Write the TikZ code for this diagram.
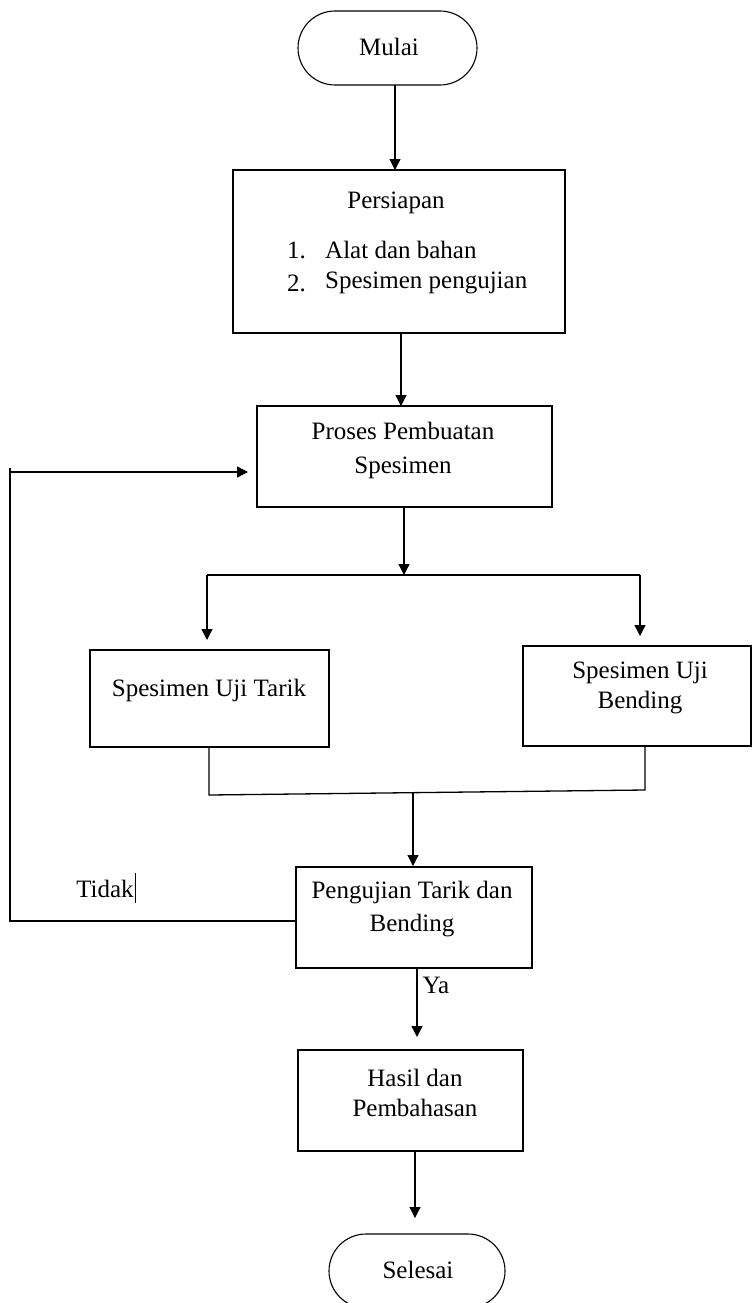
\documentclass[tikz,border=0pt]{standalone}
\usepackage{fontspec}
\setmainfont{Liberation Serif}
\usetikzlibrary{arrows.meta,shapes.misc}
\begin{document}
\begin{tikzpicture}[x=1pt,y=-1pt,
  every node/.style={font=\fontsize{25}{30}\selectfont, inner sep=0pt},
  box/.style={draw, line width=1.3pt, rectangle},
  term/.style={draw, line width=1.1pt, rounded rectangle},
  conn/.style={line width=1.3pt},
  arr/.style={line width=1.3pt, -{Triangle[length=11pt,width=11pt]}},
  txt/.style={align=center}
]
\clip (0,0) rectangle (752,1303);
\useasboundingbox (0,0) rectangle (752,1303);
% nodes
\node[term, minimum width=179pt, minimum height=74pt] (mulai) at (387.5,48) {};
\node (tmulai) at (389,47) {Mulai};
\node[box, minimum width=332pt, minimum height=163pt] (persiapan) at (399,251.5) {};
\node (tpers) at (396,203) {Persiapan};
\node[anchor=west] (n1) at (287,250) {1.};
\node[anchor=west] (l1) at (325,250) {Alat dan bahan};
\node[anchor=west] (n2) at (287,283) {2.};
\node[anchor=west] (l2) at (325,283) {Spesimen pengujian};
\node[box, minimum width=295pt, minimum height=101pt] (proses) at (404.5,456.5) {};
\node[txt] (tproses) at (403,450) {Proses Pembuatan\\[4pt]Spesimen};
\node[box, minimum width=239pt, minimum height=97pt] (tarik) at (209.5,698.5) {};
\node (ttarik) at (209,690) {Spesimen Uji Tarik};
\node[box, minimum width=228pt, minimum height=100pt] (bending) at (637,696) {};
\node[txt] (tbend) at (640,688) {Spesimen Uji\\Bending};
\node[box, minimum width=236pt, minimum height=101pt] (uji) at (414,917.5) {};
\node[txt] (tuji) at (412,909.5) {Pengujian Tarik dan\\[3pt]Bending};
\node[box, minimum width=225pt, minimum height=101pt] (hasil) at (410.5,1100.5) {};
\node[txt] (thasil) at (415,1093) {Hasil dan\\Pembahasan};
\node[term, minimum width=176pt, minimum height=74pt] (selesai) at (417,1271) {};
\node (tsel) at (418,1270) {Selesai};
\node (tidak) at (105,889) {Tidak};
\node (ya) at (436,985) {Ya};
% coordinates
\coordinate (split) at (404,575);
\coordinate (sl) at (207,575);
\coordinate (sr) at (640,575);
\coordinate (ml) at (209,795);
\coordinate (mr) at (645,790);
\coordinate (mc) at (413,793);
\coordinate (fb1) at (10,921);
\coordinate (fb2) at (10,468);
\coordinate (fb3) at (10,472);
\coordinate (fbend) at (248,472);
% connectors
\draw[arr] (395,85) -- (395,170);
\draw[arr] (persiapan.south -| 401,0) -- (401,406);
\draw[arr] (proses.south -| split) -- (split);
\draw[conn] (sl) -- (sr);
\draw[arr] (sl) -- (207,640);
\draw[arr] (sr) -- (640,636);
\draw[conn] (tarik.south -| ml) -- (ml) -- (mr) -- (bending.south -| mr);
\draw[arr] (mc) -- (413,866);
\draw[conn] (uji.west |- fb1) -- (fb1) -- (fb2);
\draw[arr] (fb3) -- (fbend);
\draw[arr] (uji.south -| 417,0) -- (417,1037);
\draw[arr] (hasil.south -| 415,0) -- (415,1218);
\draw[line width=0.8pt] (135,873) -- (135,903);
\end{tikzpicture}
\end{document}
